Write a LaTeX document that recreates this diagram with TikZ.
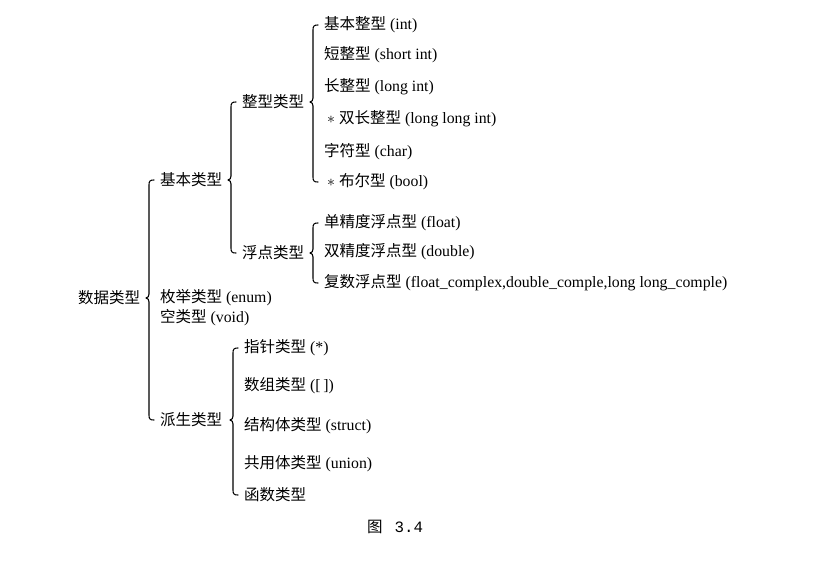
\documentclass[tikz,border=0pt]{standalone}
\usepackage{fontspec}
\setmainfont{Liberation Serif}
\newfontfamily\cjkf{Noto Sans CJK SC}
\newcommand{\cjk}{\cjkf\fontsize{15.5}{18}\selectfont}
\newfontfamily\capmono{Liberation Mono}
\usetikzlibrary{calc}
\tikzset{
  tx/.style={anchor=west, inner sep=0pt, font=\fontsize{15.8}{18}\selectfont},
  bracestyle/.style={line width=1.1pt, line cap=round, line join=round},
}
\newcommand{\tbrace}[3]{%
  \draw[bracestyle] let \p1=(#2.west), \p2=(#3.west), \p3=(#1.east) in
   (\x1-6pt,\y1) .. controls (\x1-10pt,\y1) and (\x1-11pt,\y1-1pt) .. (\x1-11pt,\y1-5pt)
   -- (\x1-11pt,\y3+4pt) .. controls (\x1-11pt,\y3+2pt) and (\x1-12pt,\y3) .. (\x1-14pt,\y3)
   .. controls (\x1-12pt,\y3) and (\x1-11pt,\y3-2pt) .. (\x1-11pt,\y3-4pt)
   -- (\x1-11pt,\y2+5pt) .. controls (\x1-11pt,\y2+1pt) and (\x1-10pt,\y2) .. (\x1-6pt,\y2);}
\newcommand{\st}{\hspace{3pt}\scalebox{1.1}{$\ast$}\hspace{4pt}}
\begin{document}
\begin{tikzpicture}[x=1pt,y=-1pt]
\useasboundingbox (0,0) rectangle (822,562);
% level 0
\node[tx] (dt) at (78,298) {\cjk 数据类型};
% level 1
\node[tx] (jb) at (160,180) {\cjk 基本类型};
\node[tx] (en) at (160,298) {{\cjk 枚举类型} (enum)};
\node[tx] (vo) at (160,318) {{\cjk 空类型} (void)};
\node[tx] (ps) at (160,420) {\cjk 派生类型};
% level 2
\node[tx] (zx) at (242,102) {\cjk 整型类型};
\node[tx] (fd) at (242,253) {\cjk 浮点类型};
% integer types
\node[tx] (i1) at (324,25) {{\cjk 基本整型} (int)};
\node[tx] (i2) at (324,55) {{\cjk 短整型} (short int)};
\node[tx] (i3) at (324,87) {{\cjk 长整型} (long int)};
\node[tx] (i4) at (324,119) {\st{\cjk 双长整型} (long long int)};
\node[tx] (i5) at (324,152) {{\cjk 字符型} (char)};
\node[tx] (i6) at (324,182) {\st{\cjk 布尔型} (bool)};
% float types
\node[tx] (f1) at (324,223) {{\cjk 单精度浮点型} (float)};
\node[tx] (f2) at (324,252) {{\cjk 双精度浮点型} (double)};
\node[tx] (f3) at (324,283) {{\cjk 复数浮点型} (float\_complex,double\_comple,long long\_comple)};
% derived types
\node[tx] (d1) at (244,348) {{\cjk 指针类型} (*)};
\node[tx] (d2) at (244,386) {{\cjk 数组类型} ([\,])};
\node[tx] (d3) at (244,426) {{\cjk 结构体类型} (struct)};
\node[tx] (d4) at (244,464) {{\cjk 共用体类型} (union)};
\node[tx] (d5) at (244,495) {\cjk 函数类型};
% caption
\node[tx] (cap) at (367,527) {{\cjk 图}\hspace{12pt}{\capmono 3.4}};
% braces
\tbrace{dt}{jb}{ps}
\tbrace{jb}{zx}{fd}
\tbrace{zx}{i1}{i6}
\tbrace{fd}{f1}{f3}
\tbrace{ps}{d1}{d5}
\end{tikzpicture}
\end{document}
